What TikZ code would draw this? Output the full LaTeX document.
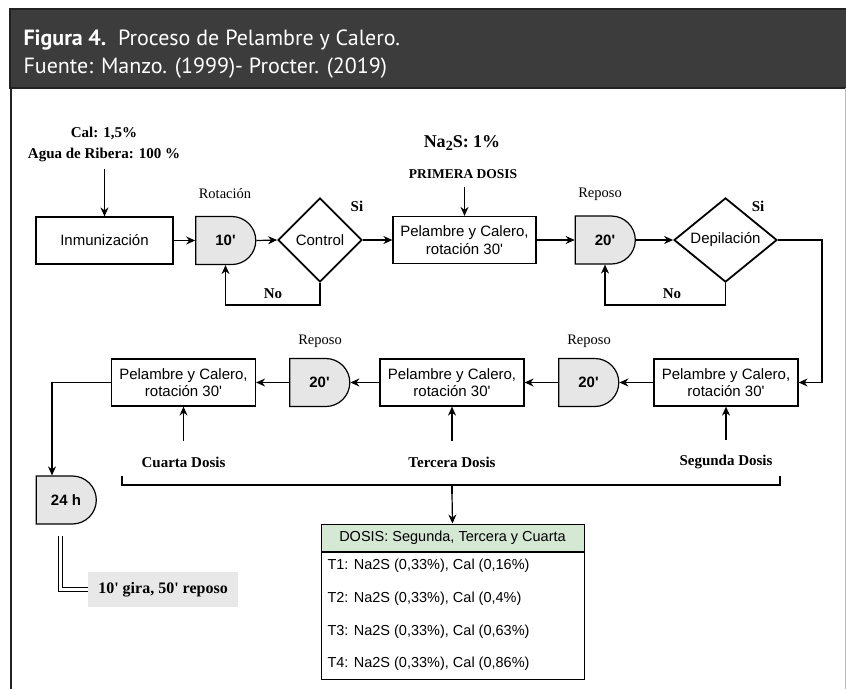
\documentclass[tikz,border=0pt]{standalone}
\usepackage{fontspec}
\newfontfamily\arialfont{Liberation Sans}
\newfontfamily\tnrfont{Liberation Serif}
\newfontfamily\headfont{PT Sans}
\usetikzlibrary{shapes.geometric, shapes.misc, arrows.meta, calc}
\definecolor{headgray}{HTML}{3C3C3C}
\definecolor{headline}{HTML}{222222}
\definecolor{delaygray}{HTML}{E6E6E6}
\definecolor{notegray}{HTML}{E8E8E8}
\definecolor{tabgreen}{HTML}{D5E8D4}
\definecolor{framegray}{HTML}{BBBBBB}

\begin{document}
\begin{tikzpicture}[x=1pt, y=-1pt,
		proc/.style={draw, line width=1.2pt, minimum width=144pt, minimum height=47pt, align=center, inner sep=2pt, font=\arialfont\fontsize{15}{17.5}\selectfont},
		delay/.style={draw, line width=1.2pt, fill=delaygray, rounded rectangle, rounded rectangle left arc=none, minimum width=60pt, minimum height=48pt, inner sep=0pt, font=\arialfont\bfseries\fontsize{15}{17}\selectfont},
		decision/.style={draw, line width=1.8pt, diamond, minimum height=84pt, inner sep=0pt, font=\arialfont\fontsize{15}{17}\selectfont},
		lbl/.style={font=\tnrfont\bfseries\fontsize{15}{17}\selectfont},
		note/.style={font=\tnrfont\fontsize{14.5}{17}\selectfont},
		flow/.style={-{Stealth[length=9pt,width=8pt]}, line width=1.2pt},
		cell/.style={anchor=west, font=\arialfont\fontsize{14.5}{17}\selectfont}]
		\useasboundingbox (0,0) rectangle (846,689);
		%
		% header and frame
		\draw[fill=headgray, draw=headline, line width=2pt] (10,9) rectangle (848,88);
		\node[anchor=base west, text=white, font=\headfont\fontsize{22}{25}\selectfont] (title) at (20,45) {\textbf{Figura 4.}\ \ Proceso de Pelambre y Calero.};
		\node[anchor=base west, text=white, font=\headfont\fontsize{22}{25}\selectfont] (source) at (20,73) {Fuente: Manzo. (1999)- Procter. (2019)};
		\draw[line width=2pt, headline] (11,88) -- (11,689);
		\draw[line width=1pt, framegray] (845,88) -- (845,689);
		%
		% first row
		\node[proc, minimum width=137pt] (inm) at (104.5,240.5) {Inmunización};
		\node[delay] (d1) at (225.5,240.5) {10'};
		\node[decision, minimum width=84pt] (ctl) at (320,240) {Control};
		\node[proc, minimum width=143pt] (p1) at (464.5,240) {Pelambre y Calero,\\rotación 30'};
		\node[delay] (d2) at (605,240) {20'};
		\node[decision, minimum width=103pt] (dep) at (725.5,240) {Depilación};
		%
		\node[lbl] (cal) at (104,133) {Cal: 1,5\%};
		\node[lbl] (agua) at (104,155) {Agua de Ribera: 100 \%};
		\coordinate (aguain) at (104.5,169);
		\node[lbl, font=\tnrfont\bfseries\fontsize{18}{20}\selectfont] (nas) at (462,143) {Na\raisebox{-2.5pt}{\fontsize{14}{14}\selectfont 2}S: 1\%};
		\node[lbl, font=\tnrfont\bfseries\fontsize{13.5}{15}\selectfont] (prim) at (463,174) {PRIMERA DOSIS};
		\coordinate (primin) at (464.5,187);
		\node[note] (rot) at (225,194) {Rotación};
		\node[note] (rep1) at (600,194) {Reposo};
		\node[lbl] (si1) at (357,206) {Si};
		\node[lbl] (si2) at (758,206) {Si};
		\node[lbl] (no1) at (273,294) {No};
		\node[lbl] (no2) at (672,294) {No};
		%
		\draw[flow] (aguain) -- (inm.north);
		\draw[flow] (primin) -- (p1.north);
		\foreach \a/\b in {inm/d1, d1/ctl, ctl/p1, p1/d2, d2/dep}{
			\draw[flow] (\a.east) -- (\b.west);
		}
		\draw[flow] (ctl.south) -- ++(0,22) -| (d1.south);
		\draw[flow] (dep.south) -- ++(0,22) -| (d2.south);
		%
		% second row
		\node[proc] (p2) at (726,382.5) {Pelambre y Calero,\\rotación 30'};
		\node[delay] (r2) at (588.5,382.5) {20'};
		\node[proc] (p3) at (452,382.5) {Pelambre y Calero,\\rotación 30'};
		\node[delay] (r3) at (319.5,382.5) {20'};
		\node[proc] (p4) at (183.5,382.5) {Pelambre y Calero,\\rotación 30'};
		\node[note] (rep2) at (589,341) {Reposo};
		\node[note] (rep3) at (320,341) {Reposo};
		\node[lbl] (seg) at (726,462) {Segunda Dosis};
		\node[lbl] (ter) at (452,462) {Tercera Dosis};
		\node[lbl] (cua) at (183.5,462) {Cuarta Dosis};
		%
		\draw[flow] (dep.east) -- ++(44,0) |- (p2.east);
		\foreach \a/\b in {p2/r2, r2/p3, p3/r3, r3/p4}{
			\draw[flow] (\a.west) -- (\b.east);
		}
		\foreach \d/\p in {seg/p2, ter/p3, cua/p4}{
			\draw[flow] ([yshift=12pt]\d.north) -- (\p.south);
		}
		%
		% bracket and table
		\coordinate (bl) at (122,476);
		\coordinate (br) at (780,476);
		\coordinate (bm) at (452,485);
		\draw[line width=2.5pt] (bl) |- (bm) -| (br);
		\draw[line width=2.5pt] (bm) -- ++(0,9) coordinate (bt);
		\node[draw, line width=1pt, fill=tabgreen, minimum width=263pt, minimum height=27pt, font=\arialfont\fontsize{14.5}{17}\selectfont] (thead) at (452.5,537.5) {DOSIS: Segunda, Tercera y Cuarta};
		\node[draw, line width=1pt, anchor=north, minimum width=263pt, minimum height=127pt] (tbody) at (thead.south) {};
		\foreach \i/\c/\y in {1/{0,16}/566, 2/{0,4}/599, 3/{0,63}/632, 4/{0,86}/664}{
			\node[cell] (t\i) at (324,\y) {T\i: Na2S (0,33\%), Cal (\c\%)};
		}
		\draw[flow] (bt) -- (thead.north);
		%
		% last step
		\node[delay] (d24) at (66,500) {24 h};
		\draw[flow] (p4.west) -| ([xshift=-14pt]d24.north);
		\node[fill=notegray, minimum width=150pt, minimum height=35pt, font=\tnrfont\bfseries\fontsize{16}{18}\selectfont] (gira) at (163,589.5) {10' gira, 50' reposo};
		\coordinate (dbl) at (60,536);
		\draw[double, double distance=3pt, line width=1pt] (dbl) |- (gira.west);
	\end{tikzpicture}
\end{document}
